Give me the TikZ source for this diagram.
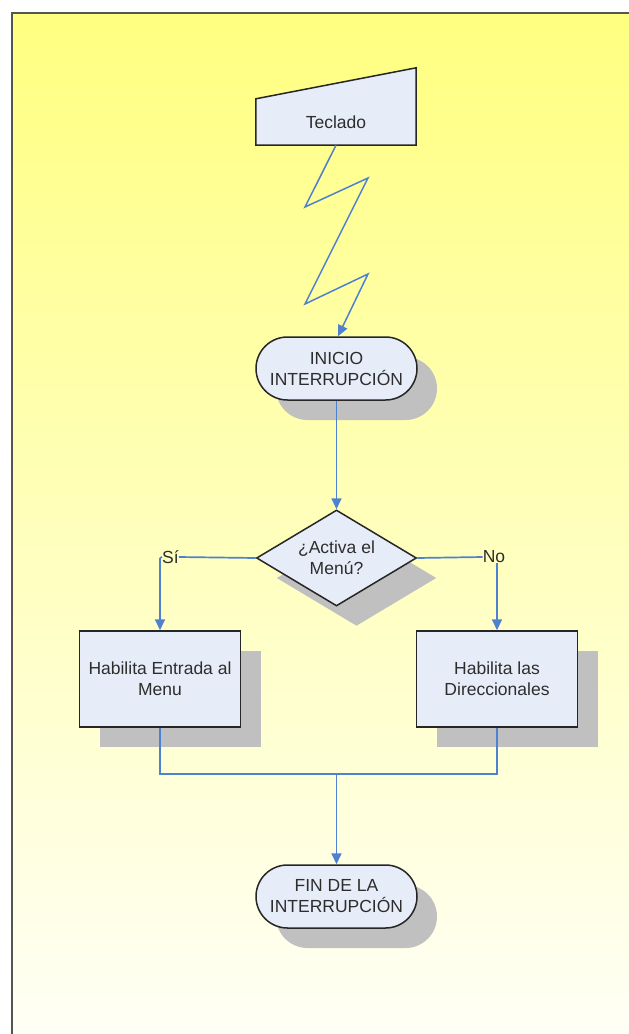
\documentclass[tikz,border=0pt]{standalone}
\usepackage{fontspec}
\setmainfont{Liberation Sans}
\usetikzlibrary{shapes.geometric,shapes.misc,shadows,arrows.meta}
\definecolor{bgtop}{RGB}{255,255,128}
\definecolor{bgbot}{RGB}{255,255,246}
\definecolor{shapefill}{RGB}{231,237,248}
\definecolor{shadowgray}{RGB}{192,192,192}
\definecolor{linkblue}{RGB}{79,129,209}
\definecolor{framegray}{RGB}{85,85,85}
\definecolor{textgray}{RGB}{45,45,45}
\tikzset{
  every node/.style={font=\fontsize{17.5}{21}\selectfont, text=textgray, align=center},
  shad/.style={drop shadow={shadow xshift=20pt, shadow yshift=-20pt, fill=shadowgray, opacity=1}},
  term/.style={rounded rectangle, draw=black!85, line width=1.5pt, fill=shapefill,
    minimum width=161pt, minimum height=63pt, inner sep=0pt, shad},
  procbox/.style={rectangle, draw=black!85, line width=1.5pt, fill=shapefill,
    minimum width=161pt, minimum height=96pt, inner sep=0pt, shad},
  decbox/.style={diamond, draw=black!85, line width=1.5pt, fill=shapefill,
    minimum width=160pt, minimum height=96pt, inner sep=0pt, aspect=1.667, shad},
  link/.style={draw=linkblue, line width=1.7pt},
  arr/.style={link, -{Triangle[length=11pt,width=10pt]}},
  lbl/.style={inner sep=0pt}
}
\begin{document}
\begin{tikzpicture}[x=1pt,y=-1pt]
\useasboundingbox (0,0) rectangle (629,1034);
\fill[white] (0,0) rectangle (629,1034);
\shade[top color=bgtop, bottom color=bgbot] (12,13) rectangle (629,1034);
\draw[framegray, line width=2pt] (12,1034) -- (12,13) -- (629,13);

% keyboard (manual input)
\node[minimum width=160pt, minimum height=46pt, inner sep=0pt] (kb) at (336,122) {};
\draw[draw=black!85, line width=1.5pt, fill=shapefill]
  (kb.south west) -- (kb.north west) -- ([yshift=31pt]kb.north east) -- (kb.south east) -- cycle;
\node at (kb.center) {Teclado};

\node[term] (ini) at (336.5,368.5) {INICIO\\INTERRUPCIÓN};
\node[decbox] (dec) at (336.5,558) {¿Activa el\\Menú?};
\node[procbox] (b1) at (160,679) {Habilita Entrada al\\Menu};
\node[procbox] (b2) at (497,679) {Habilita las\\Direccionales};
\node[term] (fin) at (336.5,896.5) {FIN DE LA\\INTERRUPCIÓN};

\node[lbl, anchor=west] (si) at (162,557) {Sí};
\node[lbl] (no) at (494,557) {No};
\coordinate (csi) at (160,558);
\coordinate (j) at (336.5,774);

% lightning
\draw[arr, line width=1.5pt] (kb.south) -- (305,207) -- (368,178) -- (305,304) -- (368,274) -- ([xshift=1.5pt]ini.north);

\draw[arr] (ini.south) -- (dec.north);
\draw[link] (dec.west) -- (si.east);
\draw[link] (si.west) -- (csi);
\draw[arr] (csi) -- (b1.north);
\draw[link] (dec.east) -- (no.west);
\draw[arr] (no.south -| b2.north) -- (b2.north);
\draw[link] (b1.south) |- (j) -| (b2.south);
\draw[arr] (j) -- (fin.north);
\end{tikzpicture}
\end{document}
